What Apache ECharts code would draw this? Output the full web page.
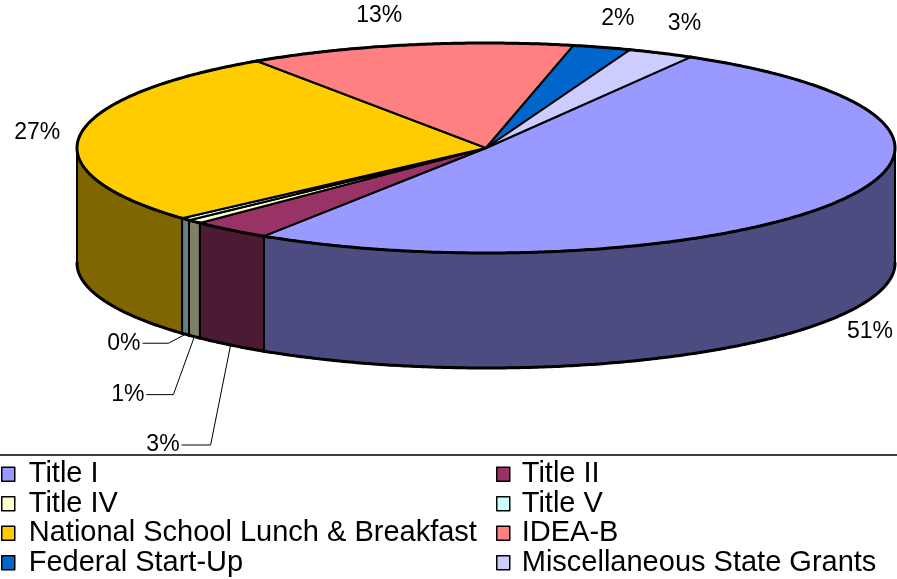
<!DOCTYPE html>
<html><head><meta charset="utf-8">
<script src="https://cdn.jsdelivr.net/npm/echarts@6/dist/echarts.min.js"></script>
<style>html,body{margin:0;padding:0;background:#fff}#c{width:897px;height:579px}</style>
</head><body><div id="c"></div>
<script>
// ---- data ----
const categories = ['Title I','Title II','Title IV','Title V','National School Lunch & Breakfast','IDEA-B','Federal Start-Up','Miscellaneous State Grants'];
const values = [50.8, 3.2, 0.6, 0.4, 27.2, 12.9, 2.3, 2.6];
const legendLeft = ['Title I','Title IV','National School Lunch & Breakfast','Federal Start-Up'];
const legendRight = ['Title II','Title V','IDEA-B','Miscellaneous State Grants'];

// ---- styles / layout ----
const topColors = ['#9999FF','#993366','#FFFFCC','#CCFFFF','#FFCC00','#FF8080','#0066CC','#CCCCFF'];
const sideColors = ['#4C4C80','#4D1A33','#808066','#668080','#806600','#804040','#003366','#666680'];
const CX = 486, CY = 148, RX = 409, RY = 105, DEPTH = 115, START = 30;
const LABEL_GAP = 20;
// leader-line labels: [elbowDx, elbowDy, horizontalLen] relative to side-bottom anchor
const leaders = {1: [-20, 100, 29], 2: [-21, 58, 27], 3: [-17, 9, 26]};
// fine nudges for outside labels
const nudges = {0: [-5, 3], 4: [0, 0], 5: [-26, 2], 6: [10, 2], 7: [15, 0]};
const FONT = '"Liberation Sans", Arial, sans-serif';

const total = values.reduce((a, b) => a + b, 0);
const angles = [];
let acc = START;
values.forEach(v => { const a0 = acc; acc += v / total * 360; angles.push([a0, acc]); });

function pt(deg, dy, rx, ry) {
  const r = deg * Math.PI / 180;
  return [CX + (rx || RX) * Math.sin(r), CY - (ry || RY) * Math.cos(r) + (dy || 0)];
}
function arc(a0, a1, dy) {
  const n = Math.max(2, Math.ceil(Math.abs(a1 - a0) / 0.5));
  const pts = [];
  for (let i = 0; i <= n; i++) pts.push(pt(a0 + (a1 - a0) * i / n, dy));
  return pts;
}

function renderItem(params, api) {
  const i = params.dataIndex;
  const [a0, a1] = angles[i];
  const children = [];
  const rim = {stroke: '#000', lineWidth: 3, fill: null, lineJoin: 'round', lineCap: 'round'};
  [[90, 270], [450, 630]].forEach(([f0, f1]) => {
    const s0 = Math.max(a0, f0), s1 = Math.min(a1, f1);
    if (s1 > s0) {
      const pts = arc(s0, s1, 0).concat(arc(s1, s0, DEPTH));
      children.push({type: 'polygon', z2: 1, shape: {points: pts},
        style: {fill: sideColors[i], stroke: '#000', lineWidth: 2, lineJoin: 'round'}});
      children.push({type: 'polyline', z2: 2, shape: {points: arc(s0, s1, DEPTH)}, style: rim});
    }
  });
  children.push({type: 'polygon', z2: 5, shape: {points: [[CX, CY]].concat(arc(a0, a1, 0))},
    style: {fill: topColors[i], stroke: '#000', lineWidth: 2, lineJoin: 'round'}});
  children.push({type: 'polyline', z2: 6, shape: {points: arc(a0, a1, 0)}, style: rim});

  const pct = Math.round(api.value(0) / total * 100) + '%';
  const mid = (a0 + a1) / 2;
  const s = Math.sin(mid * Math.PI / 180), c = Math.cos(mid * Math.PI / 180);
  if (leaders[i]) {
    const an = pt(mid, DEPTH);
    const [dx, dy, hl] = leaders[i];
    const el = [an[0] + dx, an[1] + dy];
    const end = [el[0] - hl, el[1]];
    children.push({type: 'polyline', z2: 20, shape: {points: [an, el, end]},
      style: {stroke: '#000', lineWidth: 1, fill: null}});
    children.push({type: 'text', z2: 21, style: {text: pct, x: end[0] - 2, y: end[1],
      align: 'right', verticalAlign: 'middle', fontSize: 23, fontFamily: FONT, fill: '#000'}});
  } else {
    const p = pt(mid, c < 0 ? DEPTH : 0, RX + LABEL_GAP, RY + LABEL_GAP);
    const nd = nudges[i] || [0, 0];
    let align = 'center', va = 'middle';
    if (Math.abs(s) >= 0.5) align = s > 0 ? 'left' : 'right';
    else va = c > 0 ? 'bottom' : 'top';
    children.push({type: 'text', z2: 21, style: {text: pct, x: p[0] + nd[0], y: p[1] + nd[1],
      align: align, verticalAlign: va, fontSize: 23, fontFamily: FONT, fill: '#000'}});
  }
  return {type: 'group', children};
}

function legendCfg(left, data, textPad) {
  return {
    orient: 'vertical', left: left, top: 459.5, padding: 0, itemGap: 0, itemWidth: 13, itemHeight: 14,
    icon: 'rect', selectedMode: false, data: data,
    itemStyle: {borderColor: '#000', borderWidth: 1.5},
    textStyle: {fontSize: 29, fontFamily: FONT, color: '#000', lineHeight: 29.5, padding: [0, 0, 0, textPad]}
  };
}

const chart = echarts.init(document.getElementById('c'), null, {renderer: 'canvas'});
chart.setOption({
  animation: false,
  backgroundColor: '#fff',
  legend: [legendCfg(1, legendLeft, 9), legendCfg(496, legendRight, 7)],
  graphic: [{type: 'line', shape: {x1: 0, y1: 455, x2: 897, y2: 455}, style: {stroke: '#000', lineWidth: 1.5}}],
  series: [
    {type: 'custom', coordinateSystem: 'none', silent: true, renderItem: renderItem,
     data: values.map(v => [v])},
    {type: 'pie', radius: [0, 0], center: [-50, -50], silent: true,
     label: {show: false}, labelLine: {show: false},
     itemStyle: {borderColor: '#000', borderWidth: 1.5},
     data: categories.map((n, i) => ({name: n, value: values[i], itemStyle: {color: topColors[i]}}))}
  ]
});
</script>
</body></html>
